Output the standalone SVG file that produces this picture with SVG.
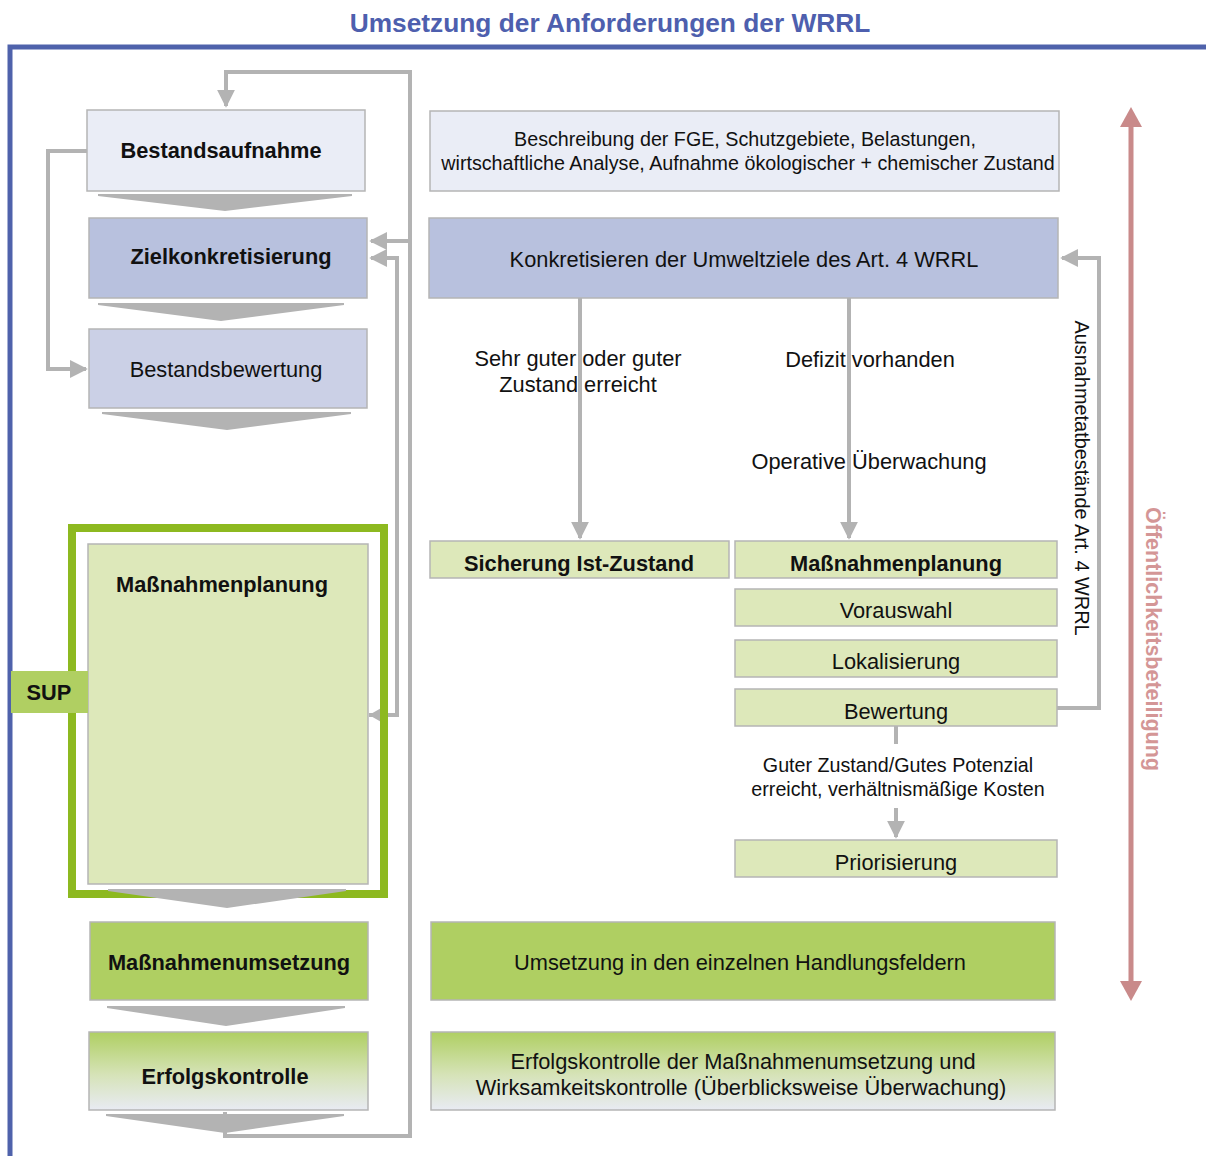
<svg xmlns="http://www.w3.org/2000/svg" width="1206" height="1156" viewBox="0 0 1206 1156">
  <defs>
    <style>
      text { font-family: "Liberation Sans", Arial, sans-serif; fill: #111; }
      .b { font-weight: bold; }
      .box { stroke: #b5b5b5; stroke-width: 1.5; }
      .c1 { fill: #eaedf6; }
      .c2 { fill: #b8c1de; }
      .c3 { fill: #cbd0e6; }
      .g1 { fill: #dde8ba; }
      .g2 { fill: #afcf62; }
      .chev { fill: #b3b3b3; }
      .conn { fill: none; stroke: #b3b3b3; stroke-width: 4; }
    </style>
    <linearGradient id="fade" x1="0" y1="0" x2="0" y2="1">
      <stop offset="0" stop-color="#afcf62"/>
      <stop offset="0.55" stop-color="#d6e3b8"/>
      <stop offset="1" stop-color="#e8ebf3"/>
    </linearGradient>
    <marker id="ah" viewBox="0 0 10 10" refX="9" refY="5" markerWidth="4.5" markerHeight="4.5" markerUnits="strokeWidth" orient="auto">
      <path d="M0,0 L10,5 L0,10 z" fill="#b3b3b3"/>
    </marker>
  </defs>

  <!-- title and frame -->
  <text x="610" y="32" text-anchor="middle" class="b" font-size="26.3" style="fill:#4e5fae">Umsetzung der Anforderungen der WRRL</text>
  <path d="M10,1156 V47 H1206" fill="none" stroke="#4f62ab" stroke-width="5"/>

  <!-- connectors -->
  <g id="connectors">
    <path class="conn" d="M225,1112 V1136 H410 V72 H226 V106" marker-end="url(#ah)"/>
    <path class="conn" d="M410,241 H371" marker-end="url(#ah)"/>
    <path class="conn" d="M88,151 H48 V369 H86" marker-end="url(#ah)"/>
    <path class="conn" d="M369,715 H397 V258 H371" marker-end="url(#ah)"/>
    <path class="conn" d="M580,298 V538" marker-end="url(#ah)"/>
    <path class="conn" d="M849,298 V538" marker-end="url(#ah)"/>
    <path class="conn" d="M896,726 V744"/>
    <path class="conn" d="M896,808 V837" marker-end="url(#ah)"/>
    <path class="conn" d="M1057,708 H1099 V258 H1062" marker-end="url(#ah)"/>
    <polygon points="369,715 383,707 383,723" fill="#b3b3b3"/>
  </g>

  <!-- left column -->
  <g id="bestandsaufnahme">
    <rect class="box c1" x="87" y="110" width="278" height="81"/>
    <text x="221" y="158" text-anchor="middle" class="b" font-size="21.8">Bestandsaufnahme</text>
    <polygon class="chev" points="98,194 352,194 352,196 225,211 98,196"/>
  </g>
  <g id="zielkonkretisierung">
    <rect class="box c2" x="89" y="218" width="278" height="80"/>
    <text x="231" y="264" text-anchor="middle" class="b" font-size="21.8">Zielkonkretisierung</text>
    <polygon class="chev" points="98,303 344,303 344,305 221,321 98,305"/>
  </g>
  <g id="bestandsbewertung">
    <rect class="box c3" x="89" y="329" width="278" height="79"/>
    <text x="226" y="377" text-anchor="middle" font-size="21.8">Bestandsbewertung</text>
    <polygon class="chev" points="102,412 351,412 351,414 227,430 102,414"/>
  </g>
  <g id="massnahmenplanung-links">
    <rect class="box g1" x="88" y="544" width="280" height="340"/>
    <text x="222" y="592" text-anchor="middle" class="b" font-size="21.8">Maßnahmenplanung</text>
    <rect x="72" y="528" width="312" height="366" fill="none" stroke="#8db920" stroke-width="8"/>
    <polygon class="chev" points="108,889 346,889 346,891 227,908 108,891"/>
  </g>
  <g id="sup">
    <rect x="11" y="671" width="77" height="42" fill="#b0cf62"/>
    <text x="49" y="700" text-anchor="middle" class="b" font-size="21.8">SUP</text>
  </g>
  <g id="massnahmenumsetzung">
    <rect class="box g2" x="90" y="922" width="278" height="78"/>
    <text x="229" y="970" text-anchor="middle" class="b" font-size="21.8">Maßnahmenumsetzung</text>
    <polygon class="chev" points="107,1006 345,1006 345,1008 226,1026 107,1008"/>
  </g>
  <g id="erfolgskontrolle">
    <rect class="box" x="89" y="1032" width="279" height="78" fill="url(#fade)"/>
    <text x="225" y="1084" text-anchor="middle" class="b" font-size="21.8">Erfolgskontrolle</text>
    <polygon class="chev" points="106,1114 344,1114 344,1116 225,1133 106,1116"/>
  </g>

  <!-- right column -->
  <g id="beschreibung">
    <rect class="box c1" x="430" y="111" width="629" height="80"/>
    <text x="745" y="146" text-anchor="middle" font-size="19.7">Beschreibung der FGE, Schutzgebiete, Belastungen,</text>
    <text x="748" y="170" text-anchor="middle" font-size="19.7">wirtschaftliche Analyse, Aufnahme ökologischer + chemischer Zustand</text>
  </g>
  <g id="konkretisieren">
    <rect class="box c2" x="429" y="218" width="629" height="80"/>
    <text x="744" y="267" text-anchor="middle" font-size="21.8">Konkretisieren der Umweltziele des Art. 4 WRRL</text>
  </g>
  <g id="labels">
    <text x="578" y="366" text-anchor="middle" font-size="21.8">Sehr guter oder guter</text>
    <text x="578" y="392" text-anchor="middle" font-size="21.8">Zustand erreicht</text>
    <text x="870" y="367" text-anchor="middle" font-size="21.8">Defizit vorhanden</text>
    <text x="869" y="469" text-anchor="middle" font-size="21.8">Operative Überwachung</text>
    <text x="898" y="772" text-anchor="middle" font-size="19.7">Guter Zustand/Gutes Potenzial</text>
    <text x="898" y="796" text-anchor="middle" font-size="19.7">erreicht, verhältnismäßige Kosten</text>
    <text transform="translate(1075,478) rotate(90)" text-anchor="middle" font-size="19.9">Ausnahmetatbestände Art. 4 WRRL</text>
  </g>
  <g id="sicherung">
    <rect class="box g1" x="430" y="541" width="299" height="37"/>
    <text x="579" y="571" text-anchor="middle" class="b" font-size="21.8">Sicherung Ist-Zustand</text>
  </g>
  <g id="massnahmenplanung-rechts">
    <rect class="box g1" x="735" y="541" width="322" height="37"/>
    <text x="896" y="571" text-anchor="middle" class="b" font-size="21.8">Maßnahmenplanung</text>
  </g>
  <g id="vorauswahl">
    <rect class="box g1" x="735" y="589" width="322" height="37"/>
    <text x="896" y="618" text-anchor="middle" font-size="21.8">Vorauswahl</text>
  </g>
  <g id="lokalisierung">
    <rect class="box g1" x="735" y="640" width="322" height="37"/>
    <text x="896" y="669" text-anchor="middle" font-size="21.8">Lokalisierung</text>
  </g>
  <g id="bewertung">
    <rect class="box g1" x="735" y="689" width="322" height="37"/>
    <text x="896" y="719" text-anchor="middle" font-size="21.8">Bewertung</text>
  </g>
  <g id="priorisierung">
    <rect class="box g1" x="735" y="840" width="322" height="37"/>
    <text x="896" y="870" text-anchor="middle" font-size="21.8">Priorisierung</text>
  </g>
  <g id="umsetzung">
    <rect class="box g2" x="431" y="922" width="624" height="78"/>
    <text x="740" y="970" text-anchor="middle" font-size="21.8">Umsetzung in den einzelnen Handlungsfeldern</text>
  </g>
  <g id="erfolgskontrolle-rechts">
    <rect class="box" x="431" y="1032" width="624" height="78" fill="url(#fade)"/>
    <text x="743" y="1069" text-anchor="middle" font-size="21.8">Erfolgskontrolle der Maßnahmenumsetzung und</text>
    <text x="741" y="1095" text-anchor="middle" font-size="21.8">Wirksamkeitskontrolle (Überblicksweise Überwachung)</text>
  </g>

  <!-- public participation -->
  <g id="oeffentlichkeit">
    <line x1="1131" y1="124" x2="1131" y2="984" stroke="#c98a8a" stroke-width="5"/>
    <polygon points="1131,107 1142,127 1120,127" fill="#c98a8a"/>
    <polygon points="1131,1001 1142,981 1120,981" fill="#c98a8a"/>
    <text transform="translate(1146,639) rotate(90)" text-anchor="middle" class="b" font-size="21.5" style="fill:#d49696">Öffentlichkeitsbeteiligung</text>
  </g>
</svg>
